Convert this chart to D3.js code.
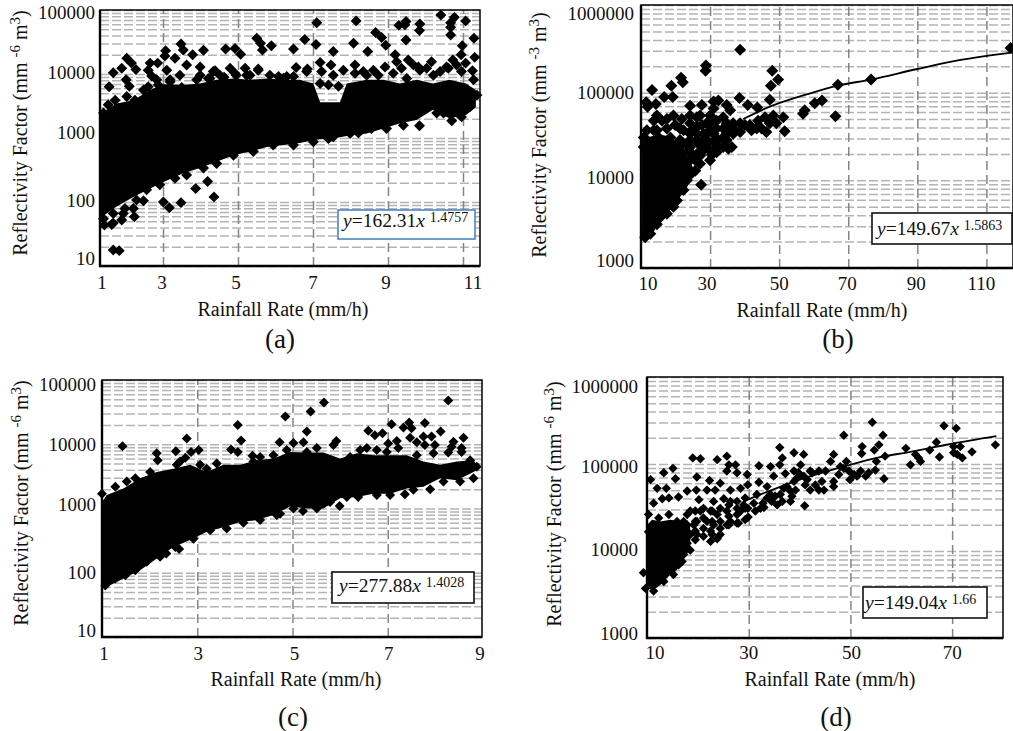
<!DOCTYPE html>
<html>
<head>
<meta charset="utf-8">
<style>
  html, body { margin: 0; background: #fff; }
  svg { display: block; }
  text { font-family: "Liberation Serif", serif; fill: #111; }
</style>
<script src="https://cdnjs.cloudflare.com/ajax/libs/d3/7.8.5/d3.min.js"></script>
</head>
<body>
<div id="chart"></div>
<script>
// All points are [rain rate, log10 of reflectivity].
// core* = [rain rate, low log10, high log10]: outline of the mass where the markers merge into solid black.
const coreA = [[1,1.75,3.36],[1.21,1.82,3.44],[1.53,1.93,3.54],[2.06,2.08,3.59],[2.59,2.21,3.75],[3,2.31,3.84],[3.54,2.45,3.83],[3.98,2.53,3.85],[4.43,2.63,3.91],[4.88,2.73,3.93],[5.32,2.79,3.91],[5.77,2.86,3.93],[6.21,2.89,3.91],[6.65,2.92,3.91],[7.01,2.97,3.85],[7.19,2.98,3.56],[7.72,3.01,3.56],[7.9,3.03,3.85],[8.43,3.07,3.91],[8.88,3.15,3.91],[9.32,3.23,3.85],[9.76,3.28,3.91],[10.2,3.44,3.85],[10.63,3.31,3.91],[11.08,3.36,3.85],[11.34,3.48,3.75]];
const upperEdgeA = [[1.11,3.39],[1.26,3.52],[1.48,3.59],[1.85,3.65],[2.11,3.59],[2.38,3.75],[2.53,3.8],[2.85,3.83],[3.19,3.91],[3.5,3.79],[3.9,3.91],[4.21,3.93],[4.52,3.98],[4.92,4.01],[5.23,3.98],[5.54,4.06],[5.85,3.98],[6.21,3.93],[6.48,3.96],[6.83,4.04],[7.23,4.04],[7.54,3.98],[7.81,4.06],[8.12,4.01],[8.43,3.98],[8.74,3.98],[9.14,4.01],[9.5,3.93],[9.85,4.06],[10.21,3.98],[10.61,4.09],[10.96,4.04],[11.28,3.91],[7.19,3.85],[7.41,3.83],[7.68,3.81],
  [3.99,3.98],[2.8,3.91],[3.45,3.98],[4.34,4.04],[4.79,4.09],[5.19,4.09],[6.08,3.96],[6.3,3.96],[8.34,4.04],[8.61,4.06],[8.92,4.11],[9.36,4.09],[9.68,4.14],[10.03,4.09],[10.39,4.04],[10.83,4.14]];
const lowerEdgeA = [[1.11,1.74],[1.42,1.82],[1.79,1.9],[2.16,2.03],[2.48,2.19],[2.9,2.27],[3.32,2.37],[3.63,2.42],[4.08,2.53],[4.43,2.6],[4.88,2.73],[5.41,2.79],[5.94,2.89],[6.48,2.89],[7.01,2.94],[7.41,2.99],[7.54,3.02],[7.99,3.07],[8.21,3.08],[8.56,3.15],[8.96,3.15],[9.41,3.2],[9.84,3.19],[10.3,3.39],[10.48,3.39],[10.7,3.27],[10.96,3.33],[11.19,3.49],[11.37,3.67]];
const outliersA = [[10.41,4.92],[10.77,4.885],[11.07,4.83],[10.67,4.8],[10.67,4.73],[10.67,4.61],[9.85,4.78],[9.84,4.68],[9.48,4.82],[9.45,4.77],[9.29,4.76],[8.15,4.83],[7.1,4.8],[8.67,4.65],[8.83,4.57],[8.94,4.45],[8.08,4.48],[9.48,4.53],[11.29,4.56],[10.98,4.44],[7.08,4.46],[6.78,4.54],[6.48,4.39],[5.89,4.44],[5.5,4.56],[5.6,4.48],[5.65,4.375],[5.07,4.31],[4.92,4.4],[4.67,4.39],[4.08,4.37],[3.48,4.47],[3.54,4.375],[3.07,4.365],[3.05,4.28],
  [1.85,4.245],[2,4.17],[1.42,4.02],[1.69,4.09],[2.14,4.07],[1.29,3.8],[1.83,3.91],[1.93,3.81],[2.59,4.17],[2.83,4.17],[2.53,4.06],[2.64,3.97],[3.1,4.06],[3.19,3.88],[3.32,4.245],[3.79,4.3],[3.63,4.14],[3.99,4.11],[4.39,4.05],[4.25,3.93],[4.63,3.95],[4.95,3.98],[5.54,4.08],[5.32,3.98],[6.55,4.1],[6.85,4.08],[7.19,4.18],[7.48,4.14],[7.54,4.35],[8.46,4.35],[6.21,3.93],[8.12,4.14],[9.19,4.3],[9.23,4.19],[9.54,4.22],[9.81,4.11],[10.16,4.19],[10.73,4.22],[10.95,4.3],[11.31,4.26],[11.07,4.17],[11.25,4.05],[10.56,4.11],
  [1.14,1.64],[1.37,1.65],[1.42,1.25],[1.61,1.24],[1.42,1.67],[1.74,1.82],[1.69,1.72],[2.06,1.9],[2.09,1.77],[2.38,2.02],[3.01,2],[3.17,1.91],[3.48,1.99],[3.87,2.21],[4.19,2.32],[4.36,2.08]];

const coreB = [[10.3,3.33,4.34],[12.7,3.35,4.5],[15.6,3.54,4.52],[18.5,3.66,4.5],[21.3,3.81,4.4],[23.3,3.92,4.3],[25,4.05,4.15]];
const pointsB = [[117,5.51],[67,5.09],[76.6,5.15],[38.7,5.49],[28.8,5.31],[28.7,5.25],[48,5.25],[49.7,5.15],[47.6,5.08],[47.3,4.92],[21.6,5.17],[22.1,5.12],[18.8,5.08],[13.2,5.03],[16.7,4.95],[19.2,4.95],[11.5,4.89],[11.9,4.84],[14.3,4.87],[38.5,4.94],[40.9,4.86],[43.7,4.83],[31,4.9],[32.4,4.91],[24.2,4.85],[27.6,4.86],[34.8,4.86],[35.8,4.8],[31,4.82],[51.2,4.72],[51.6,4.56],[57.4,4.8],[56.9,4.76],[60.3,4.88],[62.4,4.91],[66.3,4.73],[27.4,3.95],
  [13.7,4.68],[16.1,4.68],[13.7,4.57],[19.4,4.74],[21.8,4.7],[19.9,4.63],[17.5,4.59],[22.3,4.57],[10.8,4.49],[15.1,4.49],[18.5,4.49],[21.3,4.46],[24.2,4.46],[26.2,4.72],[27.1,4.74],[29,4.65],[30,4.57],[31.9,4.59],[33.8,4.59],[34.8,4.46],[36.3,4.38],[31.9,4.32],[30,4.23],[27.1,4.19],[25.7,4.11],[24.2,4.23],[23.3,4],[20.9,3.96],[31,4.44],[29,4.42],[26.2,4.3],[36.7,4.65],[38.7,4.65],[38.7,4.55],[41.5,4.63],[42,4.57],[43.9,4.68],[44.9,4.59],[46.3,4.55],[45.9,4.72],[48.3,4.74],[49.2,4.65],[33.8,4.72],[34.8,4.53],[28.1,4.53],[23.8,4.34],[20.4,3.77],[19.4,3.7],[17.5,3.62],[14.6,3.5],[12.7,3.39],[11.2,3.35],[15.6,3.58],[22.3,3.89],[20.4,4.08],[17.5,4.38],[10.8,4.38],[12.7,4.38],[26.2,4.53],[30,4.74],[29,4.46],[35.3,4.36],[16.5,4.27],
  [24.2,4.65],[26.2,4.61],[24.2,4.53],[22.3,4.42],[21.3,4.34],[24.2,4.38],[26.6,4.42],[28.1,4.34],[30,4.34],[33.8,4.46],[32.4,4.46],[31,4.53],[33.8,4.49],[30,4.65],[31.9,4.68],[34.8,4.65],[36.7,4.53],[27.6,4.63],[22.3,4.11],[24.7,4.08],[27.1,4.28],[21.3,4.19],
  [28.1,4.46],[26.2,4.46],[24.7,4.3],[29,4.53],[31.9,4.38],[33.8,4.38],[30.5,4.29],[27.6,4.38],[25.7,4.23],[23.3,4.11],[21.3,4.04],[35.3,4.59],[36.7,4.59],[40.1,4.63],[43.5,4.59],[47.3,4.65],[24.2,4.74],[14.6,4.74],[21.3,4.59],[17.5,4.7],[24.7,4.57],[11.7,4.57],[11.7,4.46],[14.6,4.57]];
const trendB = [[39.6,4.7],[47.3,4.84],[58.8,4.99],[67,5.08],[76.6,5.15],[90,5.27],[102.1,5.37],[117.6,5.46]];

const coreC = [[1,1.86,3.1],[1.1,1.78,3.21],[1.45,1.91,3.31],[1.8,2.04,3.47],[2.15,2.22,3.57],[2.5,2.4,3.62],[2.85,2.51,3.68],[3.2,2.64,3.57],[3.55,2.71,3.68],[3.9,2.79,3.68],[4.25,2.82,3.75],[4.6,2.9,3.78],[4.95,3.03,3.88],[5.3,3,3.87],[5.65,3,3.87],[6,3.16,3.78],[6.35,3.18,3.86],[6.7,3.23,3.83],[7.05,3.23,3.83],[7.4,3.31,3.83],[7.75,3.34,3.73],[8.1,3.47,3.68],[8.45,3.44,3.73],[8.8,3.57,3.75],[8.87,3.6,3.68]];
const upperEdgeC = [[1.28,3.34],[1.52,3.42],[1.7,3.47],[2.01,3.57],[2.57,3.68],[3.06,3.68],[3.2,3.62],[3.41,3.7],[4.18,3.73],[4.32,3.8],[4.6,3.83],[4.88,3.91],[5.3,3.88],[5.51,3.94],[5.86,3.99],[6.21,3.8],[6.42,3.91],[6.56,3.94],[6.77,3.91],[6.98,3.88],[7.22,3.94],[7.61,3.83],[8.55,3.88],[8.73,3.75],[1,3.23]];
const lowerEdgeC = [[1.07,1.8],[1.28,1.91],[1.49,1.96],[1.7,2.04],[1.94,2.17],[2.22,2.25],[2.54,2.4],[3.27,2.66],[3.62,2.69],[3.97,2.78],[4.32,2.82],[4.67,2.9],[5.02,3],[5.51,3],[5.79,3.1],[6.14,3.18],[6.38,3.18],[6.77,3.21],[7.05,3.21],[7.54,3.29],[8.17,3.42],[8.52,3.42]];
const outliersC = [[8.27,4.68],[5.66,4.65],[5.38,4.51],[4.85,4.43],[5.3,4.2],[3.85,4.3],[3.92,4.06],[2.78,4.09],[1.43,3.97],[2.15,3.86],[2.17,3.75],[2.55,3.89],[3.03,3.91],[2.87,3.88],[3.71,3.92],[3.85,3.88],[4.16,3.82],[4.73,4.03],[5.02,4.02],[5.23,4.03],[2.75,3.79],[2.64,3.73],[5.92,4.05],[7.08,4.31],[6.59,4.21],[6.73,4.14],[6.89,4.17],[7.33,4.26],[7.45,4.34],[7.5,4.25],[7.47,4.1],[7.61,4.03],[7.78,4.33],[7.75,4.12],[7.92,4.12],[8.11,4.2],[7.99,3.99],[8.38,4.04],[8.59,4.1],[7.01,4.01],[7.19,4.05],[7.78,3.99],[7.96,3.86],[8.27,3.87],[8.34,3.96],[8.55,3.94],[8.8,3.47],[8.87,3.65],[7.36,3.22],[7.89,3.3],[5.99,3.04],[5.22,2.96],[4.74,2.92],[2.92,2.53],[2.62,2.37],[2.35,2.3]];

const coreD = [[10,3.61,4.3],[11,3.54,4.36],[12.6,3.61,4.34],[14.6,3.73,4.36],[16.6,3.84,4.34],[18.5,4.03,4.3]];
const pointsD = [[78.5,5.22],[54.3,5.48],[68.4,5.44],[70.8,5.41],[48.7,5.33],[56.4,5.33],[52.3,5.2],[52.2,5.12],[55.6,5.22],[54.7,5.16],[60.9,5.18],[65.6,5.16],[66.9,5.25],[67.5,5.08],[62.8,5.11],[63.4,5.07],[61.8,4.99],[63.8,5.03],[70.3,5.2],[71.6,5.2],[70.3,5.13],[72,5.07],[73.9,5.14],[71,5.11],[56.8,5.09],[56.6,4.83],[54.9,4.93],[55.1,5.03],[49.2,5.03],[46.7,5.11],[46.1,5.03],[48,4.97],[49.7,4.92],[49.9,4.82],[52,4.92],[53,4.86],[50.7,4.88],[46.7,4.8],[46.7,4.74],
  [36.1,5.19],[36.6,5.07],[34.3,4.97],[36.1,4.99],[38.9,5.13],[40.8,5.11],[40.2,4.99],[32,4.98],[34.9,4.86],[37.2,4.89],[32,4.79],[29.7,4.88],[29.8,4.76],[25.7,5.09],[27.4,4.99],[23.8,5.05],[25.7,4.92],[27.7,4.9],[26.1,4.99],[19,5.07],[20.5,5.06],[19.8,4.85],[22.3,4.81],[10.7,4.82],[12,4.72],[13.8,4.72],[13.3,4.9],[15.1,4.95],[15.6,4.83],[11.3,4.55],[13,4.6],[14.3,4.61],[10.3,4.42],[16.2,4.62],[17.9,4.69],[19.7,4.7],[21.8,4.7],[24.4,4.78],[23.4,4.7],[26.4,4.7],[28.4,4.72],[20.2,4.59],[23.1,4.57],[25.1,4.6],[27.7,4.57],[29.3,4.61],[31.6,4.65],[33.6,4.74],[37.5,4.74],[39.5,4.84],[39.2,4.7],[38.5,4.63],[36.2,4.65],[34.5,4.57],[36.6,4.57],[38.2,4.57],[41,4.52],[42.1,4.7],[43.8,4.7],[44.4,4.8],[42.5,4.9],[45.1,4.92],[40.8,4.86],
  [31.3,4.46],[33,4.5],[32.8,4.55],[29.9,4.39],[29.8,4.49],[28,4.32],[25.7,4.3],[23.8,4.14],[22.5,4.11],[21.1,4.17],[23.1,4.3],[25.7,4.46],[27.7,4.42],[23.8,4.42],[21.8,4.34],[20.5,4.46],[18.5,4.46],[19.2,4.3],[17.2,4.34],[15.9,4.34],[14.3,4.42],[12.3,4.38],[18.5,4.01],[16.9,3.88],[15.2,3.73],[13.3,3.65],[9.3,3.75],[9.7,3.57],[11.3,3.54],[10.3,4.22],
  [19.8,4.34],[21.1,4.26],[22.5,4.23],[24.4,4.34],[26.4,4.34],[28.4,4.46],[22.5,4.46],[19.8,4.19],[18.5,4.19],[17.2,4.15],[17.2,3.96],[16.2,3.84],[15.2,3.8],[29,4.53],[26.4,4.57],[32.3,4.49],[34.3,4.65],[38.2,4.69],[41.1,4.76],[35.6,4.53],
  [17.9,4.42],[17.9,4.3],[17.9,4.19],[17.9,4.09],[19.5,4.46],[19.5,4.34],[19.5,4.23],[19.5,4.13],[21.1,4.49],[21.1,4.38],[22.8,4.46],[22.8,4.34],[22.8,4.19],[24.4,4.49],[24.4,4.26],[24.4,4.19],[26.1,4.53],[26.1,4.4],[26.1,4.3],[27.7,4.49],[27.7,4.32],[29.3,4.49],[29.3,4.36],
  [31,4.55],[33.6,4.61],[35.2,4.63],[36.9,4.72],[38.9,4.8],[41.5,4.82],[43.1,4.76],[44.8,4.7],[42.1,4.92],[43.8,4.92],[39.8,4.9],[47.7,4.88],[48.7,4.95],[51.3,4.86],[53.6,4.9],[38.9,4.92]];
const trendD = [[29,4.57],[39.5,4.81],[49.9,4.99],[55.2,5.07],[61.8,5.14],[69.7,5.23],[78.7,5.32]];

const ticksA = [1, 3, 5, 7, 9, 11];
const ticksB = [10, 30, 50, 70, 90, 110];
const ticksC = [1, 3, 5, 7, 9];
const ticksD = [10, 30, 50, 70];
const decadesSmall = [10, 100, 1000, 10000, 100000];
const decadesLarge = [1000, 10000, 100000, 1000000];

const panels = [
  { name: "(a)", left: 100, right: 480, top: 10, bottom: 266, size: 60,
    xDomain: [1, 3, 11, 11.45], xRange: [100, 163, 463, 480], xTicks: ticksA, yTicks: decadesSmall,
    xGrid: ticksA.slice(1), core: coreA, points: [...upperEdgeA, ...lowerEdgeA, ...outliersA], trend: null,
    xNudge: [2, -1, -2, 0, -2, 10], yNudge: [-8, -2, -6, -2, 2], labelRight: 95, tickY: 282,
    xTitle: [283, 309], caption: [280, 339], yTitleX: 20, yTitleY: 133, expo: "-6", gap: "",
    box: [338, 210, 137, 29], boxColor: "#4a86c4", eq: ["=162.31", "1.4757"], eqAt: [343, 227] },
  { name: "(b)", left: 641, right: 1013, top: 5, bottom: 268, size: 72,
    xDomain: [10, 117.7], xRange: [641, 1013], xTicks: ticksB, yTicks: decadesLarge,
    xGrid: ticksB.slice(1), core: coreB, points: pointsB, trend: trendB,
    xNudge: [7, -3, 0, -1, -1, -5], yNudge: [-8, -3, 0, 8], labelRight: 634, tickY: 283,
    xTitle: [822, 310], caption: [838, 339], yTitleX: 539, yTitleY: 135, expo: "-3", gap: "",
    box: [872, 213, 140, 31], boxColor: "#111", eq: ["=149.67", "1.5863"], eqAt: [877, 235] },
  { name: "(c)", left: 102, right: 482, top: 380, bottom: 637, size: 50,
    xDomain: [1, 9], xRange: [102, 483], xTicks: ticksC, yTicks: decadesSmall,
    xGrid: ticksC.slice(1, 4), core: coreC, points: [...upperEdgeC, ...lowerEdgeC, ...outliersC], trend: null,
    xNudge: [2, 1, 2, 1, -3], yNudge: [-7, 0, -4, 0, 4], labelRight: 96, tickY: 653,
    xTitle: [296, 679], caption: [293, 717], yTitleX: 21, yTitleY: 503, expo: "-6", gap: "",
    box: [332, 572, 142, 31], boxColor: "#111", eq: ["=277.88", "1.4028"], eqAt: [339, 592] },
  { name: "(d)", left: 647, right: 1003, top: 377, bottom: 638, size: 44,
    xDomain: [10, 80], xRange: [647, 1003], xTicks: ticksD, yTicks: decadesLarge,
    xGrid: ticksD.slice(1), core: coreD, points: pointsD, trend: trendD,
    xNudge: [8, 0, 1, 0], yNudge: [-5, -2, 2, 9], labelRight: 638, tickY: 652,
    xTitle: [830, 679], caption: [836, 717], yTitleX: 554, yTitleY: 504, expo: "-6", gap: "",
    box: [863, 587, 124, 31], boxColor: "#111", eq: ["=149.04", "1.66"], eqAt: [865, 609] }
];

const svg = d3.select("#chart").append("svg").attr("width", 1013).attr("height", 731);
const diamond = d3.symbol().type(d3.symbolSquare);

panels.forEach(p => {
  const g = svg.append("g");
  const x = d3.scaleLinear().domain(p.xDomain).range(p.xRange);
  const yMin = p.yTicks[0];
  const yMax = p.yTicks[p.yTicks.length - 1];
  const y = d3.scaleLog().domain([yMin, yMax]).range([p.bottom, p.top]);

  // Gridlines: every log tick across, the major x ticks down
  g.append("g")
    .attr("transform", `translate(${p.left},0)`)
    .call(d3.axisLeft(y).tickValues(y.ticks()).tickSize(-(p.right - p.left)).tickFormat(""))
    .call(a => a.select(".domain").remove())
    .call(a => a.selectAll("line").attr("stroke", "#b4b4b4").attr("stroke-width", 1.5).attr("stroke-dasharray", "9 3"));

  g.append("g")
    .attr("transform", `translate(0,${p.bottom})`)
    .call(d3.axisBottom(x).tickValues(p.xGrid).tickSize(-(p.bottom - p.top)).tickFormat(""))
    .call(a => a.select(".domain").remove())
    .call(a => a.selectAll("line").attr("stroke", "#858585").attr("stroke-width", 1.5).attr("stroke-dasharray", "9 5"));

  // Solid black mass where the markers overlap completely
  const coreArea = d3.area()
    .x(d => x(d[0]))
    .y0(d => y(10 ** d[1]))
    .y1(d => y(10 ** d[2]));
  g.append("path").attr("d", coreArea(p.core)).attr("fill", "#000");

  // Trend line where it shows outside the points
  if (p.trend) {
    const trendLine = d3.line()
      .x(d => x(d[0]))
      .y(d => y(10 ** d[1]))
      .curve(d3.curveMonotoneX);
    g.append("path").attr("d", trendLine(p.trend)).attr("fill", "none").attr("stroke", "#000").attr("stroke-width", 1.8);
  }

  g.selectAll("path.pt")
    .data(p.points)
    .enter()
    .append("path")
    .attr("class", "pt")
    .attr("d", diamond.size(p.size)())
    .attr("transform", d => `translate(${x(d[0])},${y(10 ** d[1])}) rotate(45)`)
    .attr("fill", "#000");

  // Frame
  g.append("rect")
    .attr("x", p.left).attr("y", p.top)
    .attr("width", p.right - p.left).attr("height", p.bottom - p.top)
    .attr("fill", "none").attr("stroke", "#000").attr("stroke-width", 1.5);
  g.append("path")
    .attr("d", `M${p.left},${p.top}V${p.bottom}H${p.right}`)
    .attr("fill", "none").attr("stroke", "#000").attr("stroke-width", 2.4);

  // Tick labels sit a little off their gridlines in the original
  p.xTicks.forEach((t, i) => {
    g.append("text").attr("x", x(t) + p.xNudge[i]).attr("y", p.tickY)
      .attr("dy", "0.35em").attr("text-anchor", "middle").attr("font-size", 19).text(t);
  });
  p.yTicks.forEach((t, i) => {
    g.append("text").attr("x", p.labelRight).attr("y", y(t) + p.yNudge[i])
      .attr("dy", "0.35em").attr("text-anchor", "end").attr("font-size", 19).text(t);
  });

  g.append("text").attr("x", p.xTitle[0]).attr("y", p.xTitle[1])
    .attr("dy", "0.35em").attr("text-anchor", "middle").attr("font-size", 20).text("Rainfall Rate (mm/h)");
  g.append("text").attr("x", p.caption[0]).attr("y", p.caption[1])
    .attr("dy", "0.35em").attr("text-anchor", "middle").attr("font-size", 27).text(p.name);

  // Y title with raised exponents
  const yTitle = g.append("text")
    .attr("transform", `translate(${p.yTitleX},${p.yTitleY}) rotate(-90)`)
    .attr("dy", "0.35em").attr("text-anchor", "middle").attr("font-size", 20).attr("xml:space", "preserve");
  yTitle.append("tspan").text(`Reflectivity Factor (mm ${p.gap}`);
  yTitle.append("tspan").attr("font-size", 15).attr("dy", -7).text(p.expo);
  yTitle.append("tspan").attr("dy", 7).text(` ${p.gap}m${p.gap}`);
  yTitle.append("tspan").attr("font-size", 15).attr("dy", -7).text("3");
  yTitle.append("tspan").attr("dy", 7).text(`${p.gap})`);

  // Fit equation
  g.append("rect")
    .attr("x", p.box[0]).attr("y", p.box[1]).attr("width", p.box[2]).attr("height", p.box[3])
    .attr("fill", "#fff").attr("stroke", p.boxColor).attr("stroke-width", 1.6);
  const eq = g.append("text").attr("x", p.eqAt[0]).attr("y", p.eqAt[1]).attr("font-size", 19.5).attr("xml:space", "preserve");
  eq.append("tspan").attr("font-style", "italic").text("y");
  eq.append("tspan").text(p.eq[0]);
  eq.append("tspan").attr("font-style", "italic").text("x ");
  eq.append("tspan").attr("font-size", 14).attr("dy", -5).text(p.eq[1]);
});
</script>
</body>
</html>
